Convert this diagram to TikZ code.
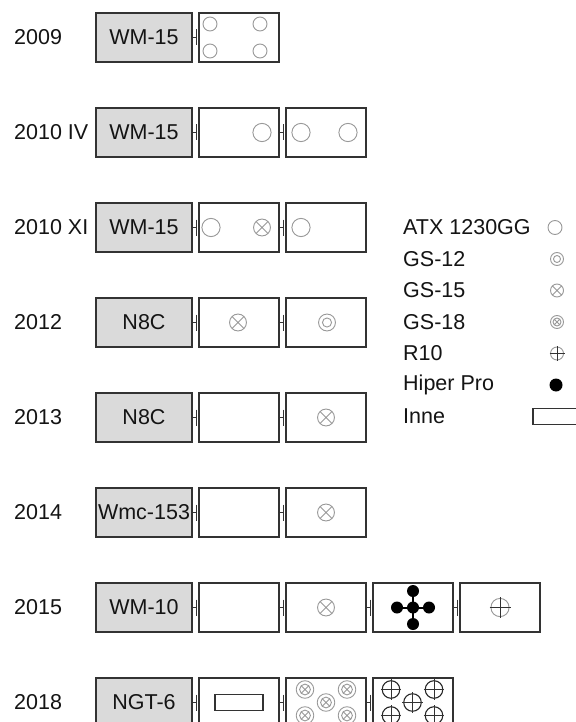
\documentclass[tikz,border=0pt]{standalone}
\usepackage{fontspec}
\setmainfont{Liberation Sans}
\definecolor{boxline}{HTML}{333333}
\definecolor{boxfill}{HTML}{DADADA}
\definecolor{symgray}{HTML}{999999}
\tikzset{
  lbl/.style={font=\fontsize{21.5}{24}\selectfont, inner sep=0, text=black!92},
  year/.style={lbl, anchor=west},
  typebox/.style={lbl, draw=boxline, line width=1.4pt, fill=boxfill, minimum width=96pt, minimum height=49pt},
  slot/.style={draw=boxline, line width=1.4pt, fill=white, minimum width=80pt, minimum height=49pt, inner sep=0},
  conn/.style={draw=boxline, line width=1.3pt,
    to path={(\tikztostart.east) -- ([xshift=-2pt]\tikztotarget.west) ++(0,-8) -- ++(0,16)}},
  symline/.style={draw=symgray, line width=0.9pt},
  crossline/.style={draw=black!80, line width=1pt},
  big/.style={scale=1.3},
  atx/.pic={\draw[symline] (0,0) circle (7);},
  gs12/.pic={\draw[symline] (0,0) circle (6.5) (0,0) circle (3.5);},
  gs15/.pic={\draw[symline] (0,0) circle (6.5) (-4.6,-4.6) -- (4.6,4.6) (-4.6,4.6) -- (4.6,-4.6);},
  gs18/.pic={\draw[symline] (0,0) circle (6.5) (0,0) circle (4) (-2.8,-2.8) -- (2.8,2.8) (-2.8,2.8) -- (2.8,-2.8);},
  r10/.pic={\draw[symline] (0,0) circle (6.5); \draw[crossline] (-7.5,0) -- (7.5,0) (0,-7.5) -- (0,7.5);},
  hiper/.pic={\fill[black] (0,0) circle (6.5);},
  inne/.pic={\draw[draw=boxline, line width=1.2pt] (-24,-8) rectangle (24,8);}
}
\begin{document}
\begin{tikzpicture}[x=1pt, y=-1pt]
  \useasboundingbox[fill=white] (0,0) rectangle (575,722);

  % 2009
  \node[year] (y09) at (14,37.5) {2009};
  \node[typebox] (m09) at (144,37.5) {WM-15};
  \node[slot] (a09) at (239,37.5) {};
  \draw[conn] (m09) to (a09);
  \pic at (210,24) {atx};
  \pic at (260,24) {atx};
  \pic at (210,51) {atx};
  \pic at (260,51) {atx};

  % 2010 IV
  \node[year] (y10a) at (14,132.5) {2010 IV};
  \node[typebox] (m10a) at (144,132.5) {WM-15};
  \node[slot] (a10a) at (239,132.5) {};
  \node[slot] (b10a) at (326,132.5) {};
  \draw[conn] (m10a) to (a10a);
  \draw[conn] (a10a) to (b10a);
  \pic[big] at (262,132.5) {atx};
  \pic[big] at (301,132.5) {atx};
  \pic[big] at (348,132.5) {atx};

  % 2010 XI
  \node[year] (y10b) at (14,227.5) {2010 XI};
  \node[typebox] (m10b) at (144,227.5) {WM-15};
  \node[slot] (a10b) at (239,227.5) {};
  \node[slot] (b10b) at (326,227.5) {};
  \draw[conn] (m10b) to (a10b);
  \draw[conn] (a10b) to (b10b);
  \pic[big] at (211,227.5) {atx};
  \pic[big] at (262,227.5) {gs15};
  \pic[big] at (301,227.5) {atx};

  % 2012
  \node[year] (y12) at (14,322.5) {2012};
  \node[typebox] (m12) at (144,322.5) {N8C};
  \node[slot] (a12) at (239,322.5) {};
  \node[slot] (b12) at (326,322.5) {};
  \draw[conn] (m12) to (a12);
  \draw[conn] (a12) to (b12);
  \pic[big] at (238,322.5) {gs15};
  \pic[big] at (327,322.5) {gs12};

  % 2013
  \node[year] (y13) at (14,417.5) {2013};
  \node[typebox] (m13) at (144,417.5) {N8C};
  \node[slot] (a13) at (239,417.5) {};
  \node[slot] (b13) at (326,417.5) {};
  \draw[conn] (m13) to (a13);
  \draw[conn] (a13) to (b13);
  \pic[big] at (326,417.5) {gs15};

  % 2014
  \node[year] (y14) at (14,512.5) {2014};
  \node[typebox] (m14) at (144,512.5) {Wmc-153};
  \node[slot] (a14) at (239,512.5) {};
  \node[slot] (b14) at (326,512.5) {};
  \draw[conn] (m14) to (a14);
  \draw[conn] (a14) to (b14);
  \pic[big] at (326,512.5) {gs15};

  % 2015
  \node[year] (y15) at (14,607.5) {2015};
  \node[typebox] (m15) at (144,607.5) {WM-10};
  \node[slot] (a15) at (239,607.5) {};
  \node[slot] (b15) at (326,607.5) {};
  \node[slot] (c15) at (413,607.5) {};
  \node[slot] (d15) at (500,607.5) {};
  \draw[conn] (m15) to (a15);
  \draw[conn] (a15) to (b15);
  \draw[conn] (b15) to (c15);
  \draw[conn] (c15) to (d15);
  \pic[big] at (326,607.5) {gs15};
  \draw[line width=2pt] (397,607.5) -- (429,607.5) (413,591) -- (413,624);
  \fill (413,607.5) circle (6);
  \fill (397,607.5) circle (6);
  \fill (429,607.5) circle (6);
  \fill (413,591) circle (6);
  \fill (413,624) circle (6);
  \pic[scale=1.4] at (500,607.5) {r10};

  % 2018
  \node[year] (y18) at (14,702.5) {2018};
  \node[typebox] (m18) at (144,702.5) {NGT-6};
  \node[slot] (a18) at (239,702.5) {};
  \node[slot] (b18) at (326,702.5) {};
  \node[slot] (c18) at (413,702.5) {};
  \draw[conn] (m18) to (a18);
  \draw[conn] (a18) to (b18);
  \draw[conn] (b18) to (c18);
  \pic at (239,702.5) {inne};
  \pic[scale=1.35] at (305,689.5) {gs18};
  \pic[scale=1.35] at (347,689.5) {gs18};
  \pic[scale=1.35] at (326,702.5) {gs18};
  \pic[scale=1.35] at (305,715.5) {gs18};
  \pic[scale=1.35] at (347,715.5) {gs18};
  \pic[scale=1.35, symline/.style={draw=black!85, line width=1.1pt}] at (391,689.5) {r10};
  \pic[scale=1.35, symline/.style={draw=black!85, line width=1.1pt}] at (434,689.5) {r10};
  \pic[scale=1.35, symline/.style={draw=black!85, line width=1.1pt}] at (412.5,702.5) {r10};
  \pic[scale=1.35, symline/.style={draw=black!85, line width=1.1pt}] at (391,715.5) {r10};
  \pic[scale=1.35, symline/.style={draw=black!85, line width=1.1pt}] at (434,715.5) {r10};

  % legend
  \node[year] (l1) at (403,227.5) {ATX 1230GG};
  \node[year] (l2) at (403,259) {GS-12};
  \node[year] (l3) at (403,290.5) {GS-15};
  \node[year] (l4) at (403,322) {GS-18};
  \node[year] (l5) at (403,353.5) {R10};
  \node[year] (l6) at (403,385) {Hiper Pro};
  \node[year] (l7) at (403,416.5) {Inne};
  \pic at (555,227.5) {atx};
  \pic at (557,259) {gs12};
  \pic at (557,290.5) {gs15};
  \pic at (557,322) {gs18};
  \pic at (557,353.5) {r10};
  \pic at (556,385) {hiper};
  \pic at (557,416.5) {inne};
\end{tikzpicture}
\end{document}
